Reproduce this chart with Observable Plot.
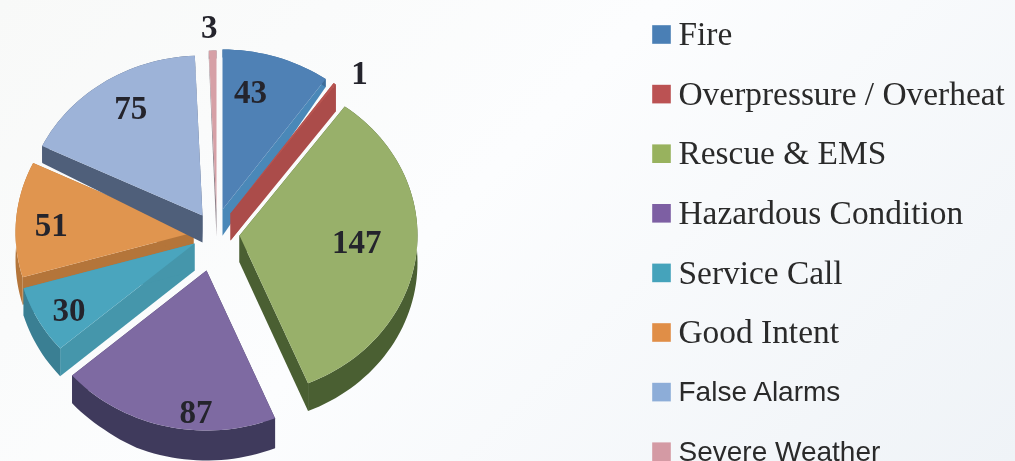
<!DOCTYPE html>
<html>
<head>
<meta charset="utf-8">
<script src="https://cdn.jsdelivr.net/npm/d3@7"></script>
<script src="https://cdn.jsdelivr.net/npm/@observablehq/plot@0.6"></script>
<style>
html,body{margin:0;padding:0;width:1015px;height:461px;overflow:hidden;
background:linear-gradient(135deg,#f8f9f8 0%,#fcfdfe 45%,#eff3f7 100%);}
svg{display:block;background:transparent !important;filter:blur(0.5px);}
</style>
</head>
<body>
<div id="chart"></div>
<script>
// Data
const categories = ["Fire","Overpressure / Overheat","Rescue & EMS","Hazardous Condition","Service Call","Good Intent","False Alarms","Severe Weather"];
const counts = [43,1,147,87,30,51,75,3];

// Styles
const topColors  = ["#4f81b5","#b85450","#98b06a","#7e6aa2","#4aa5be","#e0954f","#9db3d8","#d6a0a6"];
const sideColors = ["#4a88b8","#ab4c4a","#4a5f32","#453d62","#4596ab","#b4753a","#4f5f7a","#8c8088"];
const rimColors  = ["#3f6d9a","#ab4c4a","#4a5f32","#3f3a5c","#3a7f93","#b4753a","#4f5f7a","#8c8088"];
const legendColors = ["#4a7fb5","#bb5253","#98b25e","#7d5fa3","#45a3bb","#e08e47","#8dadd8","#d49aa4"];
const legendFonts = ["serif","serif","serif","serif","serif","serif","sans","sans"];

// Layout: how far each slice's point is pulled out of the pie centre
const explodeX = [6,14,23,-10,-22,-23,-14,0];
const explodeY = [-16,-12,10,45,18,7,-10,-15];
const labelRadius = [0.75,1.136,0.66,0.89,0.82,0.80,0.78,1.144];
const labelNudge  = [-5.6,3.8,-3,-9.4,-2,-1.7,2.3,-0.8];
const drawOrder = [7,0,1,2,5,6,4,3];
const fixedDepth = [null,27,null,null,null,null,null,null];
const rx = 178, ry = 160;
const depth = d3.scaleLinear().domain([-145,-79,-10,175,192]).range([8,17,27,28,30]).clamp(true);

const total = d3.sum(counts);
const cum = d3.cumsum(counts);
const polar = (i,deg,r=1)=>{
  const a = deg*Math.PI/180;
  return [explodeX[i]+rx*r*Math.sin(a), explodeY[i]-ry*r*Math.cos(a)];
};
const angles = counts.map((c,i)=>[(cum[i]-c)/total*360, cum[i]/total*360]);

const polys = [];
function add(key,color,pts){ pts.forEach(p=>polys.push({key,color,x:p[0],y:p[1]})); }

drawOrder.forEach(i=>{
  const down = p=>[p[0],p[1]+(fixedDepth[i] ?? depth(p[1]))];
  const [a0,a1] = angles[i];
  const n = Math.max(2,Math.ceil((a1-a0)/2));
  const arc = d3.range(n+1).map(k=>polar(i,a0+(a1-a0)*k/n));
  const apex = polar(i,0,0);
  add(`s${i}a`,sideColors[i],[apex,arc[0],down(arc[0]),down(apex)]);
  add(`s${i}b`,sideColors[i],[apex,arc[n],down(arc[n]),down(apex)]);
  add(`s${i}r`,rimColors[i],[...arc,...arc.slice().reverse().map(down)]);
  add(`s${i}t`,topColors[i],[apex,...arc]);
});

const labels = counts.map((c,i)=>{
  const mid = (angles[i][0]+angles[i][1])/2 + labelNudge[i];
  const [x,y] = polar(i,mid,labelRadius[i]);
  return {x,y,text:String(c)};
});

const legend = categories.map((name,i)=>({name,i,font:legendFonts[i],color:legendColors[i]}));
const swatchX = 445, textX = 462;
const rowY = i => -191 + i*59.6;

const plot = Plot.plot({
  width:1015,height:461,margin:0,
  x:{domain:[-216,799],range:[0,1015],axis:null},
  y:{domain:[-225,236],range:[0,461],axis:null},
  color:{type:"identity"},
  marks:[
    Plot.line(polys,{x:"x",y:"y",z:"key",fill:"color",stroke:"none",curve:"linear"}),
    Plot.text(labels,{x:"x",y:"y",text:"text",fontFamily:"Liberation Serif",fontWeight:"bold",fontSize:33,fill:"#24242c"}),
    Plot.dot(legend,{x:()=>swatchX,y:d=>rowY(d.i),symbol:"square",r:10.5,fill:"color",stroke:"none"}),
    Plot.text(legend.filter(d=>d.font==="serif"),{x:()=>textX,y:d=>rowY(d.i),text:"name",textAnchor:"start",fontFamily:"Liberation Serif",fontSize:33.4,fill:"#2a2a2a"}),
    Plot.text(legend.filter(d=>d.font==="sans"),{x:()=>textX,y:d=>rowY(d.i),text:"name",textAnchor:"start",fontFamily:"Liberation Sans",fontSize:28,fill:"#2a2a2a"})
  ]
});
document.getElementById("chart").appendChild(plot);
</script>
</body>
</html>
